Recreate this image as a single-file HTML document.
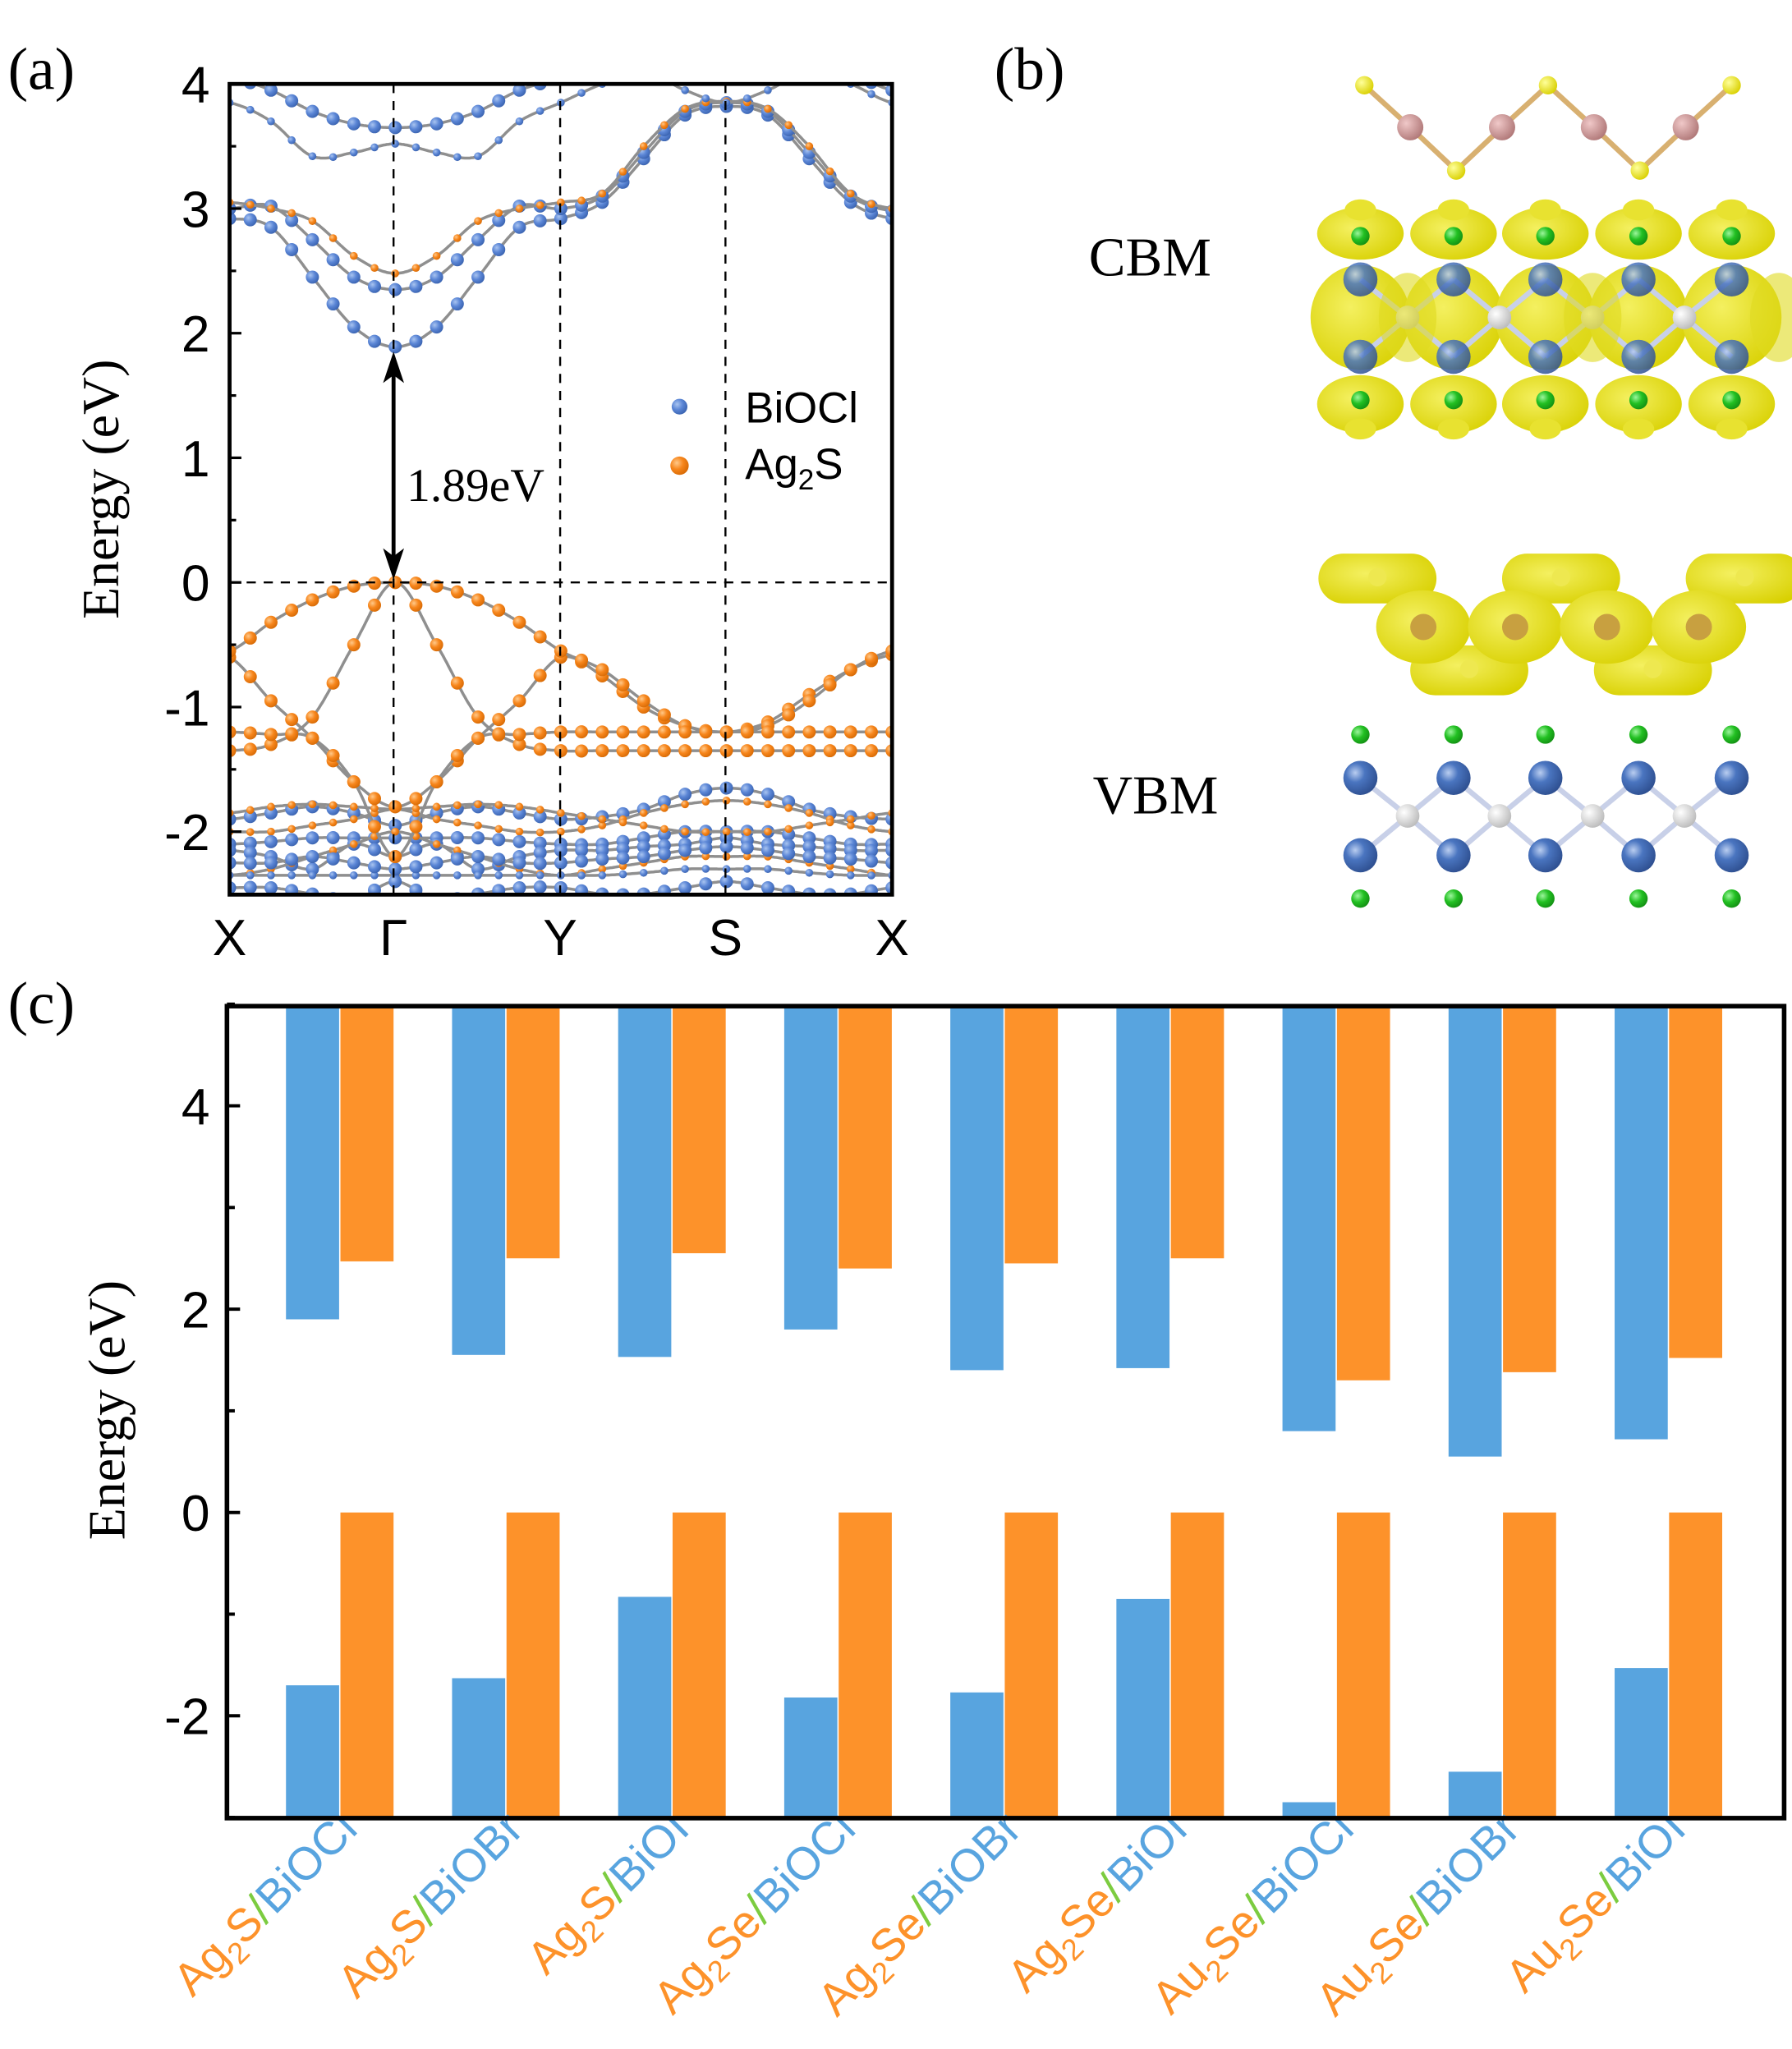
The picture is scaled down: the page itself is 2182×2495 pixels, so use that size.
<!DOCTYPE html>
<html><head><meta charset="utf-8"><style>
html,body{margin:0;padding:0;background:#fff}
svg{display:block}
</style></head><body>
<svg id="s" xmlns="http://www.w3.org/2000/svg" width="2182" height="2495" viewBox="0 0 1366 1562" preserveAspectRatio="none">
<defs>
<clipPath id="ca"><rect x="175" y="64" width="505" height="618"/></clipPath>
<radialGradient id="gb" cx="0.35" cy="0.35" r="0.7"><stop offset="0" stop-color="#a9c4f0"/><stop offset="0.5" stop-color="#5b86d6"/><stop offset="1" stop-color="#3a63b0"/></radialGradient>
<radialGradient id="go" cx="0.35" cy="0.35" r="0.7"><stop offset="0" stop-color="#ffc98a"/><stop offset="0.5" stop-color="#f7861c"/><stop offset="1" stop-color="#d76a05"/></radialGradient>
<radialGradient id="bi" cx="0.35" cy="0.35" r="0.7"><stop offset="0" stop-color="#b9cdf0"/><stop offset="0.4" stop-color="#4a75c0"/><stop offset="1" stop-color="#2e4f90"/></radialGradient>
<radialGradient id="gr" cx="0.35" cy="0.35" r="0.7"><stop offset="0" stop-color="#9cf59c"/><stop offset="0.5" stop-color="#22c022"/><stop offset="1" stop-color="#139013"/></radialGradient>
<radialGradient id="wh" cx="0.35" cy="0.35" r="0.7"><stop offset="0" stop-color="#fff"/><stop offset="1" stop-color="#bbb"/></radialGradient>
<radialGradient id="ye" cx="0.35" cy="0.35" r="0.7"><stop offset="0" stop-color="#ffff9a"/><stop offset="1" stop-color="#d9d000"/></radialGradient>
<radialGradient id="pk" cx="0.35" cy="0.35" r="0.7"><stop offset="0" stop-color="#f0c8c8"/><stop offset="1" stop-color="#b07878"/></radialGradient>
<radialGradient id="iso" cx="0.4" cy="0.4" r="0.7"><stop offset="0" stop-color="#f4f060"/><stop offset="1" stop-color="#d8d000"/></radialGradient>
</defs>
<g font-family="Liberation Serif, serif" font-size="46" fill="#000">
<text x="6" y="68">(a)</text>
<text x="758" y="68">(b)</text>
<text x="6" y="780">(c)</text>
</g>
<g id="bands" clip-path="url(#ca)"></g>
<g id="afr"></g>
<g id="struct"></g>
<g id="cc"></g>
</svg>
<script>
var NS="http://www.w3.org/2000/svg";
function el(p,t,a,txt){var e=document.createElementNS(NS,t);for(var k in a)e.setAttribute(k,a[k]);if(txt!==undefined)e.textContent=txt;p.appendChild(e);return e;}
var B=document.getElementById('bands'),AF=document.getElementById('afr');
function X(t){return 175+t*126.25;} function Y(E){return 444-95*E;}
function interp(pts,t){var n=pts.length-1,s=t*n/4;var i=Math.min(Math.floor(s),n-1),f=s-i;
 var p0=pts[Math.max(i-1,0)],p1=pts[i],p2=pts[i+1],p3=pts[Math.min(i+2,n)];
 return 0.5*((2*p1)+(-p0+p2)*f+(2*p0-5*p1+4*p2-p3)*f*f+(-p0+3*p1-3*p2+p3)*f*f*f);}
function band(pts,col,big){var d="";for(var k=0;k<=400;k++){var t=k/100;d+=(k?"L":"M")+X(t).toFixed(1)+","+Y(interp(pts,t)).toFixed(1);}
 el(B,'path',{d:d,fill:'none',stroke:'#8f8f8f','stroke-width':2.2});
 for(var k=0;k<=32;k++){var t=k/8;var r=big?5:3;el(B,'circle',{cx:X(t),cy:Y(interp(pts,t)),r:r,fill:col=='b'?'url(#gb)':'url(#go)'});}}
band([2.92,2.85,2.45,2.05,1.89,2.05,2.45,2.85,2.92,3.05,3.4,3.75,3.82,3.75,3.4,3.05,2.92],'b',1);
band([3.0,3.02,2.75,2.45,2.35,2.45,2.75,3.02,3.0,3.1,3.45,3.78,3.85,3.78,3.45,3.1,2.98],'b',1);
band([3.05,3.0,2.9,2.62,2.48,2.62,2.9,3.0,3.05,3.12,3.5,3.8,3.86,3.8,3.5,3.12,3.0],'o',0);
band([3.85,3.7,3.42,3.45,3.52,3.45,3.42,3.7,3.85,4.0,4.1,3.95,3.85,3.95,4.1,4.0,3.85],'b',0);
band([4.05,3.95,3.78,3.68,3.65,3.68,3.78,3.95,4.05,4.2,4.3,4.2,4.1,4.2,4.3,4.1,3.95],'b',1);
band([-1.9,-1.85,-1.8,-1.85,-1.95,-1.85,-1.8,-1.85,-1.9,-1.88,-1.82,-1.7,-1.65,-1.7,-1.82,-1.88,-1.9],'b',1);
band([-2.0,-2.0,-1.95,-1.9,-1.82,-1.9,-1.95,-2.0,-2.0,-1.95,-1.85,-1.78,-1.75,-1.78,-1.85,-1.95,-2.0],'o',0);
band([-2.1,-2.08,-2.05,-2.05,-2.05,-2.05,-2.05,-2.08,-2.1,-2.1,-2.05,-2.0,-2.0,-2.0,-2.05,-2.1,-2.1],'b',1);
band([-2.15,-2.2,-2.3,-2.1,-2.2,-2.1,-2.3,-2.2,-2.15,-2.15,-2.12,-2.1,-2.05,-2.1,-2.12,-2.15,-2.15],'b',1);
band([-2.35,-2.3,-2.2,-2.1,-2.0,-2.1,-2.2,-2.3,-2.35,-2.3,-2.25,-2.2,-2.2,-2.2,-2.25,-2.3,-2.35],'o',0);
band([-2.35,-2.35,-2.35,-2.35,-2.35,-2.35,-2.35,-2.35,-2.35,-2.35,-2.33,-2.3,-2.3,-2.3,-2.33,-2.35,-2.35],'b',0);
band([-2.45,-2.45,-2.5,-2.55,-2.4,-2.55,-2.5,-2.45,-2.45,-2.5,-2.5,-2.45,-2.4,-2.45,-2.5,-2.5,-2.45],'b',1);
band([-2.25,-2.25,-2.2,-2.25,-2.3,-2.25,-2.2,-2.25,-2.25,-2.22,-2.2,-2.15,-2.12,-2.15,-2.2,-2.22,-2.25],'b',1);
band([-1.85,-1.8,-1.78,-1.8,-1.82,-1.8,-1.78,-1.8,-1.85,-1.9,-1.95,-2.0,-2.0,-2.0,-1.95,-1.9,-1.85],'o',0);
band([-0.6,-0.95,-1.25,-1.6,-1.8,-1.6,-1.25,-0.95,-0.6,-0.75,-1.0,-1.15,-1.2,-1.12,-0.9,-0.7,-0.58],'o',1);
band([-1.35,-1.3,-1.08,-0.5,0,-0.5,-1.08,-1.3,-1.35,-1.35,-1.35,-1.35,-1.35,-1.35,-1.35,-1.35,-1.35],'o',1);
band([-0.55,-0.32,-0.14,-0.03,0,-0.03,-0.14,-0.32,-0.55,-0.7,-0.95,-1.15,-1.2,-1.15,-0.95,-0.7,-0.55],'o',1);
band([-1.2,-1.22,-1.25,-1.6,-2.2,-1.6,-1.25,-1.22,-1.2,-1.2,-1.2,-1.2,-1.2,-1.2,-1.2,-1.2,-1.2],'o',1);
[300,427,553].forEach(function(x){el(AF,'line',{x1:x,y1:64,x2:x,y2:682,stroke:'#000','stroke-width':1.5,'stroke-dasharray':'7,6'});});
el(AF,'line',{x1:175,y1:444,x2:680,y2:444,stroke:'#000','stroke-width':1.5,'stroke-dasharray':'7,6'});
el(AF,'rect',{x:175,y:64,width:505,height:618,fill:'none',stroke:'#000','stroke-width':3});
for(var E=-2.5;E<=4;E+=0.5){var y=Y(E);var L=(E%1===0)?9:5;el(AF,'line',{x1:175,y1:y,x2:175+L,y2:y,stroke:'#000','stroke-width':2});}
[4,3,2,1,0,-1,-2].forEach(function(v){el(AF,'text',{x:160,y:Y(v)+14,'text-anchor':'end','font-family':'Liberation Sans, sans-serif','font-size':39},v);});
[['X',175],['\u0393',300],['Y',427],['S',553],['X',680]].forEach(function(p){el(AF,'text',{x:p[1],y:728,'text-anchor':'middle','font-family':'Liberation Sans, sans-serif','font-size':39},p[0]);});
el(AF,'text',{x:0,y:0,transform:'translate(90,373) rotate(-90)','text-anchor':'middle','font-family':'Liberation Serif, serif','font-size':40},'Energy (eV)');
el(AF,'line',{x1:300,y1:285,x2:300,y2:425,stroke:'#000','stroke-width':3});
el(AF,'path',{d:'M300,268 L292,292 L300,286 L308,292 Z',fill:'#000'});
el(AF,'path',{d:'M300,442 L292,418 L300,424 L308,418 Z',fill:'#000'});
el(AF,'text',{x:310,y:382,'font-family':'Liberation Serif, serif','font-size':36},'1.89eV');
el(AF,'circle',{cx:518,cy:310,r:6,fill:'url(#gb)'});
el(AF,'circle',{cx:518,cy:355,r:7,fill:'url(#go)'});
el(AF,'text',{x:568,y:322,'font-family':'Liberation Sans, sans-serif','font-size':33},'BiOCl');
var t=el(AF,'text',{x:568,y:365,'font-family':'Liberation Sans, sans-serif','font-size':33});
t.innerHTML='Ag<tspan font-size="22" dy="8">2</tspan><tspan dy="-8">S</tspan>';
var S=document.getElementById('struct');
el(S,'text',{x:830,y:210,'font-family':'Liberation Serif, serif','font-size':42},'CBM');
el(S,'text',{x:833,y:620,'font-family':'Liberation Serif, serif','font-size':42},'VBM');
var ch=[[1040,65,'y'],[1075,97,'p'],[1110,130,'y'],[1145,97,'p'],[1180,65,'y'],[1215,97,'p'],[1250,130,'y'],[1285,97,'p'],[1320,65,'y']];
for(var i=0;i<ch.length-1;i++)el(S,'line',{x1:ch[i][0],y1:ch[i][1],x2:ch[i+1][0],y2:ch[i+1][1],stroke:'#d8b070','stroke-width':4});
ch.forEach(function(a){el(S,'circle',{cx:a[0],cy:a[1],r:a[2]=='y'?7:10,fill:a[2]=='y'?'url(#ye)':'url(#pk)'});});
var cols=[1037,1108,1178,1249,1320],mids=[1073,1143,1214,1284];
function slab(y0,iso){
 var yg1=y0,yb1=y0+33,yw=y0+62,yb2=y0+92,yg2=y0+125;
 if(iso){cols.forEach(function(x){
  el(S,'ellipse',{cx:x,cy:yg1-2,rx:33,ry:20,fill:'url(#iso)'});
  el(S,'ellipse',{cx:x,cy:yg1-20,rx:12,ry:8,fill:'#e8e230'});
  el(S,'ellipse',{cx:x,cy:yg2+3,rx:33,ry:22,fill:'url(#iso)'});
  el(S,'ellipse',{cx:x,cy:yg2+22,rx:12,ry:8,fill:'#e8e230'});
  el(S,'ellipse',{cx:x,cy:yw,rx:38,ry:40,fill:'url(#iso)'});});}
 for(var i=0;i<4;i++){[[cols[i],yb1],[cols[i+1],yb1],[cols[i],yb2],[cols[i+1],yb2]].forEach(function(p){el(S,'line',{x1:mids[i],y1:yw,x2:p[0],y2:p[1],stroke:'#c8d0e8','stroke-width':4});});}
 cols.forEach(function(x){el(S,'circle',{cx:x,cy:yg1,r:7,fill:'url(#gr)'});el(S,'circle',{cx:x,cy:yg2,r:7,fill:'url(#gr)'});
  el(S,'circle',{cx:x,cy:yb1,r:13,fill:'url(#bi)',opacity:iso?0.85:1});el(S,'circle',{cx:x,cy:yb2,r:13,fill:'url(#bi)',opacity:iso?0.85:1});});
 mids.forEach(function(x){el(S,'circle',{cx:x,cy:yw,r:9,fill:'url(#wh)'});});
 if(iso){cols.forEach(function(x,i){if(i%2==0)el(S,'ellipse',{cx:x+36,cy:yw,rx:22,ry:34,fill:'#e0da20',opacity:0.6});});}
}
slab(180,true);
slab(560,false);
[[1050,440],[1190,440],[1330,440],[1120,510],[1260,510]].forEach(function(p){el(S,'rect',{x:p[0]-45,y:p[1]-18,width:90,height:38,rx:19,fill:'url(#iso)'});});
[1085,1155,1225,1295].forEach(function(x){el(S,'ellipse',{cx:x,cy:478,rx:36,ry:28,fill:'url(#iso)'});el(S,'circle',{cx:x,cy:478,r:10,fill:'#c8a040'});});
[[1050,440],[1190,440],[1330,440],[1120,510],[1260,510]].forEach(function(p){el(S,'circle',{cx:p[0],cy:p[1],r:7,fill:'#eee850'});});
var C=document.getElementById('cc');
function YC(E){return 1153-77.5*E;}
var cb=[1.9,1.55,1.53,1.8,1.4,1.42,0.8,0.55,0.72],co=[2.47,2.5,2.55,2.4,2.45,2.5,1.3,1.38,1.52];
var vb=[-1.7,-1.63,-0.83,-1.82,-1.77,-0.85,-2.85,-2.55,-1.53];
var A=['Ag','Ag','Ag','Ag','Ag','Ag','Au','Au','Au'],Bx=['S','S','S','Se','Se','Se','Se','Se','Se'],Ct=['BiOCl','BiOBr','BiOI','BiOCl','BiOBr','BiOI','BiOCl','BiOBr','BiOI'];
for(var i=0;i<9;i++){var x0=218+i*126.6;
 el(C,'rect',{x:x0,y:767,width:40.5,height:YC(cb[i])-767,fill:'#58a4df'});
 el(C,'rect',{x:x0+41.5,y:767,width:40.5,height:YC(co[i])-767,fill:'#fd922a'});
 el(C,'rect',{x:x0,y:YC(vb[i]),width:40.5,height:1386-YC(vb[i]),fill:'#58a4df'});
 el(C,'rect',{x:x0+41.5,y:1153,width:40.5,height:1386-1153,fill:'#fd922a'});
 var t=el(C,'text',{x:0,y:0,transform:'translate('+(x0+56)+',1396) rotate(-45)','text-anchor':'end','font-family':'Liberation Sans, sans-serif','font-size':35});
 t.innerHTML='<tspan fill="#fd922a">'+A[i]+'</tspan><tspan fill="#fd922a" font-size="23" dy="8">2</tspan><tspan fill="#fd922a" dy="-8">'+Bx[i]+'</tspan><tspan fill="#7ccc40">/</tspan><tspan fill="#58a4df">'+Ct[i]+'</tspan>';
}
el(C,'rect',{x:173,y:767,width:1187,height:619,fill:'none',stroke:'#000','stroke-width':3.5});
for(var E=-3;E<=5;E+=1){var y=YC(E);el(C,'line',{x1:173,y1:y,x2:(E%2===0)?183:179,y2:y,stroke:'#000','stroke-width':2.5});}
[4,2,0,-2].forEach(function(v){el(C,'text',{x:160,y:YC(v)+14,'text-anchor':'end','font-family':'Liberation Sans, sans-serif','font-size':39},v);});
el(C,'text',{x:0,y:0,transform:'translate(95,1075) rotate(-90)','text-anchor':'middle','font-family':'Liberation Serif, serif','font-size':40},'Energy (eV)');
</script>
</body></html>
